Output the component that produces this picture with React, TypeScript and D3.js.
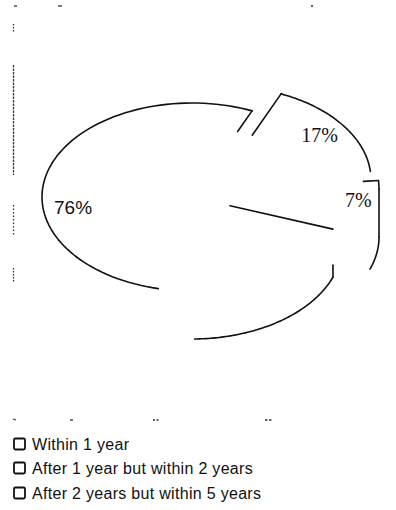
import React from "react";
import * as d3 from "d3";

const CATEGORIES = [
  "Within 1 year",
  "After 1 year but within 2 years",
  "After 2 years but within 5 years",
];
const VALUES = [76, 17, 7];
const LABELS = ["76%", "17%", "7%"];

// layout / style (not data)
const W = 396;
const H = 510;
const CX = 192;
const CY = 197;
const RX = 150;
const RY = 94;
const DEPTH = 48;
const START_DEG = 110;
const EXPLODE: [number, number][] = [
  [0, 0],
  [29, -17],
  [37, -8],
];
const LABEL_R = [0.8, 0.81, 0.87];
const LABEL_NUDGE_DEG = [15.6, 0, 0];
const LABEL_FONT = [
  "'Liberation Sans', Arial, sans-serif",
  "'Liberation Serif', 'Times New Roman', serif",
  "'Liberation Serif', 'Times New Roman', serif",
];
const LABEL_SIZE = [19, 20, 20];
const INK = "#111";
const deg = (d: number) => (d * Math.PI) / 180;

export default function App() {
  const start = deg(START_DEG);
  const pie = d3
    .pie<number>()
    .sort(null)
    .startAngle(start)
    .endAngle(start + 2 * Math.PI);
  const arcs = pie(VALUES);
  const line = d3
    .line<[number, number]>()
    .x((d) => d[0])
    .y((d) => d[1]);

  const pt = (i: number, a: number, r = 1, dz = 0): [number, number] => [
    CX + EXPLODE[i][0] + r * RX * Math.sin(a),
    CY + EXPLODE[i][1] - r * RY * Math.cos(a) + dz,
  ];
  const rim = (i: number, a0: number, a1: number, dz = 0) =>
    line(d3.range(81).map((k) => pt(i, a0 + ((a1 - a0) * k) / 80, 1, dz))) || "";
  const radial = (i: number, a: number, t0: number, t1: number) =>
    line([pt(i, a, t0), pt(i, a, t1)]) || "";
  const vertical = (i: number, a: number, dz0 = 0) =>
    line([pt(i, a, 1, dz0), pt(i, a, 1, DEPTH)]) || "";

  const [big, mid, small] = arcs;
  const right = deg(90) + 2 * Math.PI; // same direction, in the last turn
  const strokes: string[] = [
    // 76% slice: rim, edges, front wall
    rim(0, deg(193), big.endAngle),
    radial(0, big.endAngle, 0.76, 1),
    radial(0, big.startAngle, 0.27, 1),
    vertical(0, big.startAngle, DEPTH - 12),
    rim(0, big.startAngle, deg(179), DEPTH),
    // 17% slice (pulled out)
    rim(1, mid.startAngle, mid.endAngle),
    radial(1, mid.startAngle, 0.52, 1),
    // 7% slice (pulled out)
    radial(2, small.startAngle, 0.9, 1),
    rim(2, small.startAngle, right),
    vertical(2, right),
    rim(2, right, small.endAngle, DEPTH),
  ];

  const legendY = [444, 468, 493];

  return (
    <svg
      width={W}
      height={H}
      style={{ position: "absolute", left: 0, top: 0, background: "#fff" }}
    >
      <rect x={0} y={0} width={W} height={H} fill="#fff" />
      {/* scan specks */}
      <g stroke="#333" strokeWidth={1.3}>
        <line x1={13.5} x2={13.5} y1={65} y2={175} strokeDasharray="2.5 1" />
        <line x1={13.5} x2={13.5} y1={205} y2={235} strokeDasharray="1.5 2" />
        <line x1={13.5} x2={13.5} y1={268} y2={283} strokeDasharray="1.5 1.5" />
        <line x1={13.5} x2={13.5} y1={24} y2={33} strokeDasharray="1.5 1.5" />
        <line x1={14} x2={17} y1={6} y2={6} />
        <line x1={58} x2={62} y1={6} y2={6} />
        <line x1={311} x2={313} y1={6} y2={6} />
        <line x1={13} x2={16} y1={419} y2={420} />
        <line x1={70} x2={73} y1={420} y2={420} />
        <line x1={153} x2={159} y1={420} y2={420} strokeDasharray="2 1.5" />
        <line x1={265} x2={273} y1={420} y2={420} strokeDasharray="2.5 1.5" />
      </g>
      <g fill="none" stroke={INK} strokeWidth={1.6} strokeLinejoin="round" strokeLinecap="round">
        {strokes.map((d, k) => (
          <path key={k} d={d} />
        ))}
      </g>
      {arcs.map((a, i) => {
        const m = (a.startAngle + a.endAngle) / 2 + deg(LABEL_NUDGE_DEG[i]);
        const [x, y] = pt(i, m, LABEL_R[i]);
        return (
          <text
            key={i}
            x={x}
            y={y}
            dy="0.35em"
            textAnchor="middle"
            fontFamily={LABEL_FONT[i]}
            fontSize={LABEL_SIZE[i]}
            fill={INK}
          >
            {LABELS[i]}
          </text>
        );
      })}
      {CATEGORIES.map((c, i) => (
        <g key={c}>
          <rect
            x={14}
            y={legendY[i] - 5.5}
            width={11}
            height={11}
            rx={1.5}
            fill="#fff"
            stroke={INK}
            strokeWidth={1.8}
          />
          <text
            x={32}
            y={legendY[i]}
            dy="0.36em"
            fontFamily="'Liberation Sans', Arial, sans-serif"
            fontSize={16}
            letterSpacing={0.3}
            fill={INK}
          >
            {c}
          </text>
        </g>
      ))}
    </svg>
  );
}
